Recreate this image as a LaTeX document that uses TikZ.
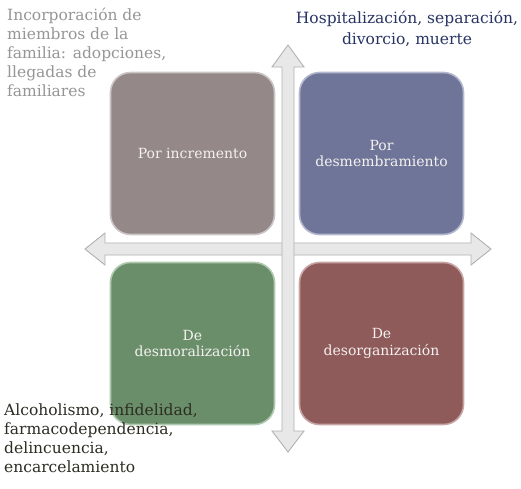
\documentclass[tikz,border=0pt]{standalone}
\usepackage{fontspec}
\setmainfont{DejaVu Serif}
\begin{document}
\begin{tikzpicture}[x=1pt,y=-1pt,
  quad/.style={rounded corners=20pt, minimum width=164pt, minimum height=162pt,
     inner sep=0pt, align=center, text={rgb,255:red,245;green,242;blue,240},
     font=\fontsize{14}{16.5}\selectfont, line width=1.6pt},
  arrowshape/.style={fill=gray!18, draw=gray!60, line width=0.9pt, line join=miter},
  note/.style={inner sep=0pt, font=\fontsize{15.5}{19}\selectfont}
]
\useasboundingbox (0,0) rectangle (521,488);
\fill[white] (0,0) rectangle (521,488);
% horizontal arrow
\draw[arrowshape] (85,249) -- (105,233) -- (105,243) -- (471,243) -- (471,233)
  -- (491,249) -- (471,265) -- (471,255) -- (105,255) -- (105,265) -- cycle;
% vertical arrow
\draw[arrowshape] (288,45) -- (304,67) -- (294,67) -- (294,431) -- (304,431)
  -- (288,452) -- (272,431) -- (282,431) -- (282,67) -- (272,67) -- cycle;
% quadrants
\node[quad, fill={rgb,255:red,148;green,136;blue,136}, draw={rgb,255:red,205;green,198;blue,198}]
  (inc) at (192.5,153.5) {Por incremento};
\node[quad, fill={rgb,255:red,111;green,116;blue,153}, draw={rgb,255:red,180;green,184;blue,205}]
  (desm) at (381.5,153.5) {Por\\desmembramiento};
\node[quad, fill={rgb,255:red,106;green,142;blue,106}, draw={rgb,255:red,175;green,200;blue,175}]
  (demo) at (192.5,343.5) {De\\desmoralización};
\node[quad, fill={rgb,255:red,142;green,90;blue,90}, draw={rgb,255:red,200;green,165;blue,165}]
  (deso) at (381.5,343.5) {De\\desorganización};
% notes
\node[note, anchor=north west, align=left, text={rgb,255:red,150;green,150;blue,150}]
  (n1) at (7,8) {Incorporación de\\miembros de la\\familia: adopciones,\\llegadas de\\familiares};
\node[note, anchor=north, align=center, text={rgb,255:red,40;green,52;blue,100},
  font=\fontsize{15.5}{21}\selectfont]
  (n2) at (407,11) {Hospitalización, separación,\\divorcio, muerte};
\node[note, anchor=north west, align=left, text={rgb,255:red,45;green,45;blue,35}]
  (n3) at (4,404) {Alcoholismo, infidelidad,\\farmacodependencia,\\delincuencia,\\encarcelamiento};
\end{tikzpicture}
\end{document}
